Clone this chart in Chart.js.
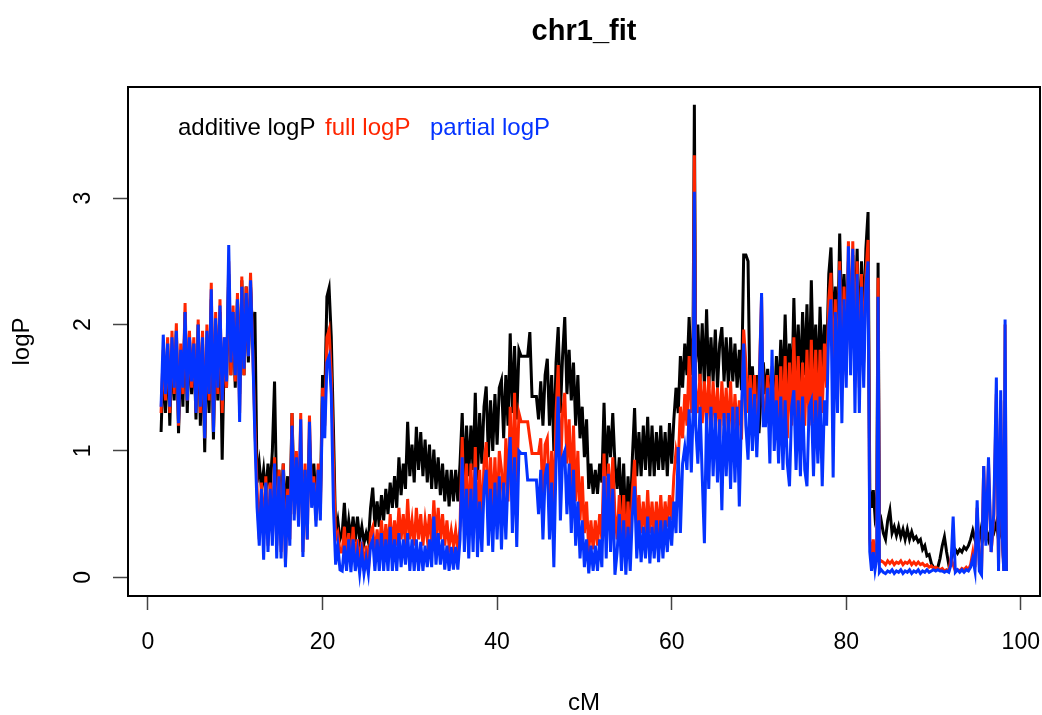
<!DOCTYPE html>
<html lang="en">
<head>
<meta charset="utf-8">
<title>chr1_fit</title>
<style>
  html, body { margin: 0; padding: 0; background: #fff; }
  #wrap { width: 1042px; height: 715px; }
</style>
</head>
<body>
<div id="wrap"><canvas id="chart" width="1042" height="715"></canvas></div>
<script src="https://cdn.jsdelivr.net/npm/chart.js@4/dist/chart.umd.min.js"></script>
<script>
// marker positions (cM), one row per cM
var cM = [
  1.5, 1.75,
  2, 2.25, 2.5, 2.75,  3, 3.25, 3.5, 3.75,  4, 4.25, 4.5, 4.75,  5, 5.25, 5.5, 5.75,  6, 6.25, 6.5, 6.75,
  7, 7.25, 7.5, 7.75,  8, 8.25, 8.5, 8.75,  9, 9.25, 9.5, 9.75,  10, 10.25, 10.5, 10.75,  11, 11.25, 11.5, 11.75,
  12,
  12.25, 12.5, 12.75,
  13, 13.25, 13.5, 13.75,  14, 14.25, 14.5, 14.75,  15, 15.25, 15.5, 15.75,  16, 16.25, 16.5, 16.75,  17, 17.25, 17.5, 17.75,
  18, 18.25, 18.5, 18.75,  19, 19.25, 19.5, 19.75,  20, 20.25, 20.5, 20.75,  21, 21.25, 21.5, 21.75,
  22,
  22.25, 22.5, 22.75,
  23, 23.25, 23.5, 23.75,  24, 24.25, 24.5, 24.75,  25, 25.25, 25.5, 25.75,  26, 26.25, 26.5, 26.75,  27, 27.25, 27.5, 27.75,
  28, 28.25, 28.5, 28.75,  29, 29.25, 29.5, 29.75,  30, 30.25, 30.5, 30.75,  31, 31.25, 31.5, 31.75,  32, 32.25, 32.5, 32.75,
  33, 33.25, 33.5, 33.75,  34, 34.25, 34.5, 34.75,
  35,
  35.25, 35.5, 35.75,
  36, 36.25, 36.5, 36.75,  37, 37.25, 37.5, 37.75,  38, 38.25, 38.5, 38.75,  39, 39.25, 39.5, 39.75,  40, 40.25, 40.5, 40.75,
  41, 41.25, 41.5, 41.75,  42, 42.25, 42.5, 42.75,  43, 43.25, 43.5, 43.75,  44, 44.25, 44.5, 44.75,  45, 45.25, 45.5, 45.75,
  46, 46.25, 46.5, 46.75,  47, 47.25, 47.5, 47.75,  48, 48.25, 48.5, 48.75,  49, 49.25, 49.5, 49.75,  50, 50.25, 50.5, 50.75,
  51, 51.25, 51.5, 51.75,
  52, 52.25, 52.5,
  52.75,
  53, 53.25, 53.5, 53.75,  54, 54.25, 54.5, 54.75,  55, 55.25, 55.5, 55.75,  56, 56.25, 56.5, 56.75,  57, 57.25, 57.5, 57.75,
  58, 58.25, 58.5, 58.75,  59, 59.25, 59.5, 59.75,  60, 60.25, 60.5, 60.75,
  61, 61.25, 61.5,
  61.75, 62, 62.25, 62.45, 62.6, 62.75, 63, 63.25, 63.5, 63.75, 64, 64.25, 64.5, 64.75, 65, 65.25, 65.5, 65.75,
  66, 66.25, 66.5, 66.75, 67, 67.25, 67.5, 67.75, 68, 68.25, 68.5, 68.75, 69, 69.25, 69.5, 69.75, 70, 70.3, 70.5,
  70.75,
  71, 71.25, 71.5, 71.75,  72, 72.25, 72.5, 72.75,  73, 73.25, 73.5, 73.75,  74, 74.25, 74.5, 74.75,  75, 75.25, 75.5, 75.75,
  76, 76.25, 76.5, 76.75,  77, 77.25, 77.5, 77.75,  78, 78.25, 78.5, 78.75,  79, 79.25, 79.5, 79.75,  80, 80.25, 80.5, 80.75,
  81, 81.25, 81.5, 81.75,
  82, 82.25, 82.5,
  82.7, 82.9, 83.1, 83.3, 83.5, 83.65, 83.8, 84,
  84.25, 84.5, 84.75,
  85, 85.25, 85.5, 85.75,  86, 86.25, 86.5, 86.75,  87, 87.25, 87.5, 87.75,  88, 88.25, 88.5, 88.75,  89, 89.25, 89.5, 89.75,
  90, 90.25, 90.5, 90.75,  91, 91.25, 91.5, 91.75,  92, 92.25, 92.5, 92.75,  93, 93.25, 93.5, 93.75,  94, 94.25, 94.5, 94.75,
  95, 95.25, 95.5, 95.75,
  96, 96.3, 96.6, 96.9, 97.2, 97.45, 97.7, 97.9, 98.05, 98.2, 98.35
];

var additiveLogP = [
  1.15, 1.7,
  1.3, 1.85, 1.2, 1.8,  1.4, 1.95, 1.14, 1.75,  1.35, 2.1, 1.3, 1.9,  1.45, 1.85, 1.25, 2.0,  1.2, 1.85, 0.99, 1.9,
  1.3, 2.2, 1.09, 2.0,  1.4, 2.1, 0.93, 1.8,  1.5, 2.4, 1.6, 2.1,  1.5, 2.2, 1.45, 2.35,  1.6, 2.3, 1.7, 2.3,
  1.9,
  2.1, 0.75, 0.9,
  0.7, 0.85, 0.65, 0.9,  0.7, 1.0, 1.55, 0.6,  0.85, 0.55, 0.9, 0.5,  0.8, 0.45, 1.3, 0.6,  0.9, 0.55, 0.95, 0.6,
  0.85, 0.5, 1.1, 0.7,  0.9, 0.6, 0.85, 0.6,  1.6, 1.4, 2.22, 2.29,  1.9, 1.17, 0.35, 0.45,
  0.3,
  0.35, 0.59, 0.3,
  0.45, 0.3, 0.48, 0.28,  0.48, 0.3, 0.4, 0.27,  0.35, 0.28, 0.55, 0.71,  0.4, 0.6, 0.4, 0.65,  0.45, 0.7, 0.5, 0.75,
  0.55, 0.8, 0.55, 0.95,  0.65, 0.9, 0.7, 1.23,  0.8, 1.05, 0.75, 1.19,  0.85, 1.15, 0.8, 1.09,  0.75, 1.05, 0.7, 1.01,
  0.7, 0.95, 0.65, 0.9,  0.6, 0.85, 0.56, 0.85,
  0.6,
  0.85, 0.6, 0.9,
  1.3, 0.75, 1.2, 0.8,  1.2, 0.85, 1.46, 0.77,  1.3, 0.9, 1.35, 1.51,  0.95, 1.4, 1.0, 1.45,  1.05, 1.5, 1.56, 1.1,
  1.6, 1.2, 1.93, 1.3,  1.83, 1.25, 1.8, 1.75,  1.75, 1.75, 1.75, 1.94,  1.43, 1.43, 1.43, 1.25,  1.55, 1.2, 1.6, 1.73,
  1.2, 1.6, 1.0, 1.7,  1.98, 1.3, 1.75, 2.06,  1.45, 1.8, 1.4, 1.7,  1.2, 1.6, 1.1, 1.35,  0.95, 1.25, 0.7, 0.9,
  0.66, 0.85, 0.66, 0.9,
  0.75, 1.38, 0.8,
  1.2,
  0.95, 1.3, 0.9, 0.7,  0.95, 0.5, 0.9, 0.35,  0.8, 0.45, 0.95, 1.34,  0.8, 1.15, 0.8, 1.2,  0.85, 1.27, 0.8, 1.2,
  0.8, 1.15, 0.85, 1.2,  0.85, 1.15, 0.8, 1.22,  0.9, 1.25, 1.5, 1.3,
  1.75, 1.5, 1.85,
  1.6, 2.06, 1.6, 1.9, 3.74, 1.7, 2.0, 1.55, 2.01, 1.5, 2.12, 1.5, 1.9, 1.55, 1.96, 1.5, 1.85, 1.98,
  1.55, 1.9, 1.5, 1.9, 1.55, 1.85, 1.5, 1.8, 1.48, 2.55, 2.55, 2.5, 1.25, 1.67, 1.3, 1.6, 1.14, 1.5, 1.7,
  1.45,
  1.65, 1.4, 1.6, 1.3,  1.75, 1.4, 1.88, 1.45,  2.08, 1.5, 1.85, 1.4,  2.21, 1.55, 2.0, 1.5,  2.1, 1.6, 2.16, 1.5,
  2.35, 1.6, 2.0, 1.5,  2.14, 1.6, 2.0, 1.7,  2.4, 2.61, 1.9, 2.3,  1.8, 2.72, 2.0, 2.4,  1.9, 2.5, 1.8, 2.55,
  2.0, 2.6, 1.75, 2.5,
  2.0, 2.6, 2.89,
  0.7, 0.55, 0.69, 0.48, 0.55, 2.49, 0.4, 0.45,
  0.35, 0.3, 0.45,
  0.53, 0.35, 0.4, 0.33,  0.4, 0.32, 0.38, 0.3,  0.38, 0.3, 0.36, 0.3,  0.32, 0.28, 0.3, 0.22,  0.25, 0.17, 0.18, 0.11,
  0.08, 0.07, 0.08, 0.15,  0.25, 0.32, 0.2, 0.1,  0.12, 0.2, 0.22, 0.19,  0.22, 0.2, 0.24, 0.22,  0.25, 0.3, 0.37, 0.3,
  0.35, 0.3, 0.4, 0.32,
  0.4, 0.3, 0.38, 0.35, 0.43, 0.3, 0.4, 0.3, 0.1, 0.45, 0.05
];

var fullLogP = [
  1.3, 1.8,
  1.4, 1.9, 1.3, 1.95,  1.45, 2.01, 1.2, 1.85,  1.45, 2.17, 1.4, 1.95,  1.5, 1.9, 1.3, 2.04,  1.3, 1.95, 1.1, 2.0,
  1.4, 2.33, 1.15, 2.1,  1.45, 2.2, 1.3, 1.9,  1.5, 2.5, 1.6, 2.15,  1.55, 2.25, 1.3, 2.38,  1.6, 2.3, 1.75, 2.41,
  1.8,
  1.2, 0.7, 0.3,
  0.75, 0.3, 0.8, 0.25,  0.75, 0.35, 0.95, 0.25,  0.85, 0.2, 0.9, 0.12,  0.7, 0.3, 1.3, 0.5,  1.0, 0.45, 1.3, 0.2,
  0.9, 0.3, 1.28, 0.6,  0.8, 0.45, 0.9, 0.5,  1.5, 1.2, 1.9, 1.96,  1.6, 0.9, 0.3, 0.35,
  0.2,
  0.2, 0.4, 0.15,
  0.35, 0.1, 0.4, 0.12,  0.3, 0.1, 0.28, 0.05,  0.25, 0.05, 0.35, 0.4,  0.15, 0.38, 0.2, 0.45,  0.2, 0.42, 0.2, 0.5,
  0.22, 0.45, 0.25, 0.55,  0.3, 0.5, 0.25, 0.62,  0.3, 0.45, 0.25, 0.55,  0.3, 0.5, 0.25, 0.45,  0.3, 0.5, 0.25, 0.61,
  0.3, 0.55, 0.3, 0.5,  0.25, 0.45, 0.24, 0.37,
  0.25,
  0.37, 0.2, 0.4,
  1.11, 0.4, 0.9, 0.35,  0.9, 0.4, 1.03, 0.35,  0.85, 0.4, 0.9, 1.07,  0.5, 0.95, 0.5, 0.95,  0.5, 1.0, 0.85, 0.55,
  1.1, 0.6, 1.35, 0.7,  1.46, 0.75, 1.3, 1.23,  1.23, 1.23, 1.23, 1.1,  0.98, 0.98, 0.98, 0.98,  1.1, 0.6, 1.05, 1.1,
  0.6, 1.0, 0.5, 1.3,  1.68, 0.8, 1.3, 1.46,  0.9, 1.25, 0.7, 1.2,  0.6, 1.0, 0.45, 0.8,  0.35, 0.6, 0.2, 0.45,
  0.22, 0.45, 0.25, 0.5,
  0.3, 0.98, 0.45,
  0.9,
  0.56, 0.95, 0.5, 0.3,  0.65, 0.25, 0.65, 0.22,  0.6, 0.25, 0.69, 0.93,  0.35, 0.65, 0.35, 0.6,  0.32, 0.69, 0.35, 0.6,
  0.32, 0.6, 0.35, 0.65,  0.35, 0.6, 0.4, 0.65,  0.45, 0.8, 1.0, 0.9,
  1.35, 1.1, 1.45,
  1.2, 1.75, 1.3, 1.6, 3.34, 1.5, 1.3, 1.61, 1.22, 1.55, 1.2, 1.59, 1.15, 1.55, 1.2, 1.5, 1.1, 1.55,
  1.2, 1.5, 1.1, 1.55, 1.1, 1.45, 1.15, 1.4, 1.09, 1.96, 1.7, 1.3, 1.6, 1.2, 1.6, 1.1, 1.5, 2.22, 1.3,
  1.3,
  1.6, 1.25, 1.67, 1.2,  1.6, 1.1, 1.67, 1.2,  1.75, 1.1, 1.7, 1.2,  1.9, 1.22, 1.75, 1.15,  1.7, 1.2, 1.8, 1.2,
  1.88, 1.22, 1.8, 1.2,  1.8, 1.3, 1.85, 1.5,  2.2, 2.41, 1.5, 2.2,  1.4, 2.5, 1.6, 2.3,  1.6, 2.66, 1.8, 2.66,
  1.8, 2.5, 1.5, 2.4,
  1.7, 2.4, 2.67,
  0.3, 0.12, 0.3, 0.15, 0.25, 2.37, 0.12, 0.13,
  0.12, 0.1, 0.13,
  0.11, 0.13, 0.1, 0.12,  0.11, 0.13, 0.1, 0.12,  0.11, 0.13, 0.1, 0.12,  0.1, 0.12, 0.1, 0.11,  0.09, 0.1, 0.08, 0.09,
  0.07, 0.08, 0.07, 0.06,  0.07, 0.05, 0.06, 0.05,  0.15, 0.1, 0.05, 0.06,  0.05, 0.07, 0.06, 0.08,  0.06, 0.1, 0.2, 0.08,
  0.55, 0.1, 0.05, 0.88,
  0.3, 0.9, 0.2, 0.45, 1.45, 0.1, 1.4, 0.3, 0.05, 2.0, 0.06
];

var partialLogP = [
  1.35, 1.92,
  1.45, 1.85, 1.35, 1.9,  1.5, 1.95, 1.22, 1.8,  1.5, 2.1, 1.4, 1.9,  1.55, 1.85, 1.3, 2.0,  1.35, 1.9, 1.1, 1.95,
  1.45, 2.28, 1.15, 2.05,  1.5, 2.15, 1.4, 1.9,  1.55, 2.63, 1.7, 2.1,  1.6, 2.2, 1.23, 2.3,  1.65, 2.25, 1.75, 2.35,
  1.8,
  1.1, 0.55, 0.25,
  0.7, 0.14, 0.75, 0.2,  0.7, 0.25, 0.9, 0.15,  0.8, 0.15, 0.85, 0.08,  0.65, 0.25, 1.2, 0.45,  0.95, 0.4, 1.25, 0.16,
  0.85, 0.3, 1.23, 0.55,  0.75, 0.4, 0.85, 0.45,  1.43, 1.1, 1.7, 1.75,  1.45, 0.55, 0.1, 0.25,
  0.06,
  0.05, 0.25, 0.05,
  0.3, 0.04, 0.3, 0.05,  0.2, 0.03, 0.2, 0.03,  0.15, 0.03, 0.25, 0.3,  0.05, 0.3, 0.05, 0.35,  0.05, 0.3, 0.05, 0.4,
  0.05, 0.3, 0.05, 0.35,  0.08, 0.3, 0.1, 0.35,  0.05, 0.3, 0.05, 0.3,  0.05, 0.28, 0.05, 0.25,  0.08, 0.3, 0.08, 0.48,
  0.1, 0.35, 0.1, 0.3,  0.06, 0.25, 0.05, 0.24,
  0.06,
  0.24, 0.06, 0.3,
  0.95, 0.2, 0.7, 0.15,  0.7, 0.2, 0.87, 0.16,  0.6, 0.2, 0.7, 0.85,  0.25, 0.7, 0.2, 0.75,  0.3, 0.8, 0.22, 0.75,
  0.3, 0.8, 1.11, 0.35,  0.95, 0.24, 1.0, 0.98,  0.98, 0.98, 0.77, 0.77,  0.77, 0.77, 0.77, 0.5,  0.85, 0.3, 0.8, 0.9,
  0.3, 0.75, 0.08, 0.9,  1.43, 0.45, 0.95, 1.0,  0.5, 0.9, 0.35, 0.85,  0.25, 0.6, 0.15, 0.45,  0.08, 0.3, 0.03, 0.25,
  0.05, 0.25, 0.05, 0.3,
  0.08, 0.8, 0.15,
  0.82,
  0.2, 0.7, 0.02, 0.2,  0.5, 0.05, 0.45, 0.02,  0.4, 0.05, 0.5, 0.72,  0.15, 0.45, 0.12, 0.4,  0.15, 0.48, 0.11, 0.4,
  0.15, 0.45, 0.12, 0.45,  0.15, 0.45, 0.2, 0.48,  0.25, 0.6, 0.35, 1.03,
  0.35, 0.9, 1.03,
  0.85, 1.33, 0.83, 1.3, 3.05, 1.2, 0.9, 1.35, 0.8, 0.27, 1.3, 0.7, 1.35, 0.8, 1.3, 0.75, 1.25, 0.53,
  1.3, 0.8, 1.3, 0.7, 1.35, 0.75, 1.35, 0.56, 1.3, 1.85, 1.2, 0.93, 1.5, 1.0, 1.45, 0.95, 1.4, 2.25, 1.2,
  1.2,
  1.5, 0.9, 1.8, 1.0,  1.4, 0.9, 1.43, 0.85,  1.4, 0.9, 0.72, 1.35,  1.48, 0.85, 1.4, 0.8,  1.43, 0.85, 0.72, 1.35,
  1.4, 0.8, 1.4, 0.9,  1.43, 0.72, 1.4, 1.2,  2.0, 2.2, 0.79, 2.1,  1.3, 2.43, 1.22, 2.2,  1.5, 2.62, 1.6, 2.6,
  1.3, 2.4, 1.3, 2.3,
  1.5, 2.3, 2.5,
  0.2, 0.05, 0.2, 0.06, 0.15, 2.22, 0.04, 0.06,
  0.04, 0.03, 0.05,
  0.04, 0.06, 0.03, 0.05,  0.04, 0.06, 0.03, 0.05,  0.04, 0.06, 0.03, 0.05,  0.04, 0.06, 0.03, 0.05,  0.04, 0.06, 0.04, 0.05,
  0.06, 0.05, 0.06, 0.05,  0.05, 0.04, 0.05, 0.04,  0.1, 0.48, 0.04, 0.06,  0.04, 0.06, 0.04, 0.06,  0.05, 0.08, 0.15, 0.05,
  0.61, 0.05, 0.02, 0.88,
  0.25, 0.95, 0.2, 0.5, 1.58, 0.05, 1.48, 0.3, 0.05, 2.04, 0.05
];

var xTicks = [0, 20, 40, 60, 80, 100];
var yTicks = [0, 1, 2, 3];
var seriesNames = ['additive logP', 'full logP', 'partial logP'];
var seriesColors = ['#000000', '#ff2600', '#0433ff'];

var FONT = '"Liberation Sans", Arial, Helvetica, sans-serif';
Chart.defaults.font.family = FONT;
Chart.defaults.color = '#000';

function pts(vals) {
  return cM.map(function(x, i) { return { x: x, y: vals[i] }; });
}

// box, rotated y tick labels, main title and the in-plot legend text (R base look)
var rFrame = {
  id: 'rFrame',
  afterDraw: function(chart) {
    var ctx = chart.ctx, a = chart.chartArea, ys = chart.scales.y;
    ctx.save();
    ctx.strokeStyle = '#000';
    ctx.lineWidth = 2;
    ctx.strokeRect(a.left, a.top, a.right - a.left, a.bottom - a.top);

    ctx.fillStyle = '#000';
    ctx.font = '23px ' + FONT;
    ctx.textAlign = 'center';
    ctx.textBaseline = 'middle';
    yTicks.forEach(function(v) {
      ctx.save();
      ctx.translate(84, ys.getPixelForValue(v));
      ctx.rotate(-Math.PI / 2);
      ctx.fillText(String(v), 0, 0);
      ctx.restore();
    });

    ctx.font = 'bold 29px ' + FONT;
    ctx.textBaseline = 'alphabetic';
    ctx.fillText('chr1_fit', (a.left + a.right) / 2, 40);

    ctx.font = '24px ' + FONT;
    ctx.textAlign = 'left';
    var lx = [178, 325, 430];
    seriesNames.forEach(function(name, i) {
      ctx.fillStyle = seriesColors[i];
      ctx.fillText(name, lx[i], 135);
    });
    ctx.restore();
  }
};

var ctx = document.getElementById('chart');
var chart = new Chart(ctx, {
  type: 'line',
  data: {
    datasets: [
      { label: seriesNames[0], data: pts(additiveLogP), borderColor: seriesColors[0], order: 3 },
      { label: seriesNames[1], data: pts(fullLogP), borderColor: seriesColors[1], order: 2 },
      { label: seriesNames[2], data: pts(partialLogP), borderColor: seriesColors[2], order: 1 }
    ]
  },
  options: {
    responsive: false,
    animation: false,
    devicePixelRatio: 1,
    layout: { padding: { top: 87, right: 2, left: 0, bottom: 0 } },
    elements: {
      point: { radius: 0 },
      line: { borderWidth: 3, tension: 0, fill: false }
    },
    plugins: {
      legend: { display: false },
      tooltip: { enabled: false },
      title: { display: false }
    },
    scales: {
      x: {
        type: 'linear',
        min: -2.29,
        max: 102.2,
        afterBuildTicks: function(s) { s.ticks = xTicks.map(function(v) { return { value: v }; }); },
        afterFit: function(s) { s.height = 119; s.paddingLeft = 0; s.paddingRight = 0; },
        ticks: { font: { size: 23 }, color: '#000', padding: 19, maxRotation: 0, autoSkip: false },
        grid: { drawOnChartArea: false, tickLength: 14, tickColor: '#444', tickWidth: 1.5 },
        border: { display: false },
        title: { display: true, text: 'cM', color: '#000', font: { size: 24, lineHeight: 1 }, padding: 0 }
      },
      y: {
        type: 'linear',
        min: -0.148,
        max: 3.88,
        afterBuildTicks: function(s) { s.ticks = yTicks.map(function(v) { return { value: v }; }); },
        afterFit: function(s) { s.width = 128; s.paddingTop = 0; s.paddingBottom = 0; },
        ticks: { display: false },
        grid: { drawOnChartArea: false, tickLength: 15, tickColor: '#444', tickWidth: 1.5 },
        border: { display: false },
        title: { display: true, text: 'logP', color: '#000', font: { size: 24, lineHeight: 1 }, padding: { top: 10, bottom: 0 } }
      }
    }
  },
  plugins: [rFrame]
});
</script>
</body>
</html>
